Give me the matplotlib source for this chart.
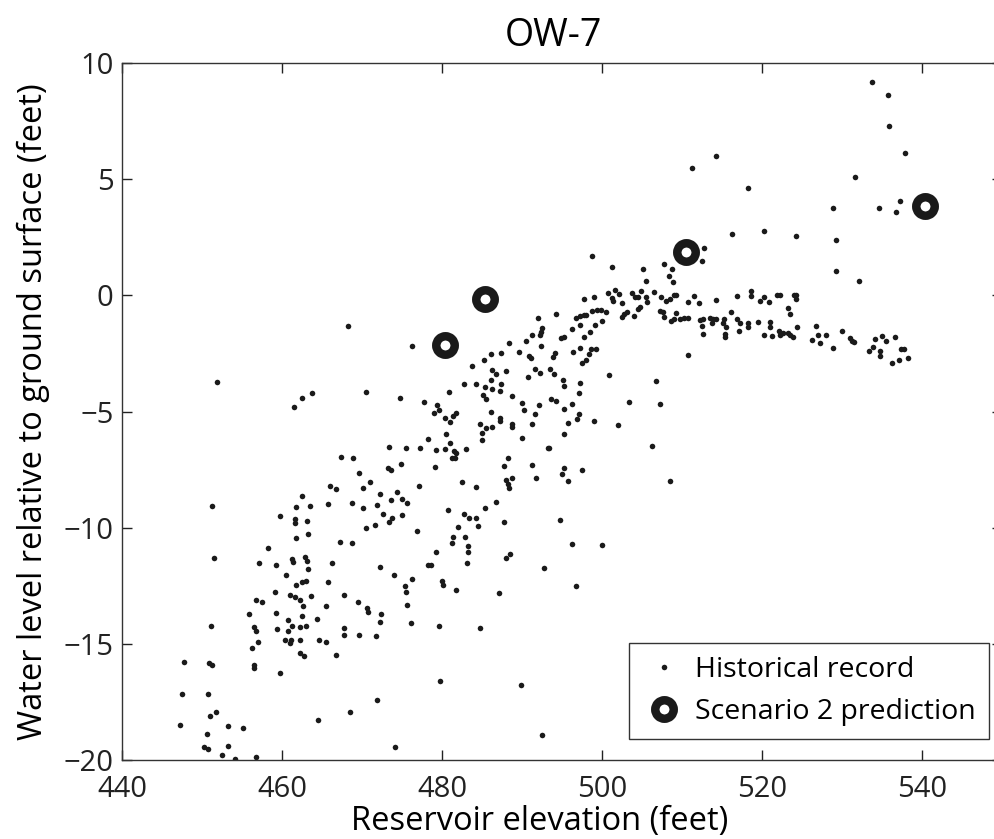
import matplotlib
matplotlib.use("Agg")
import matplotlib.pyplot as plt

plt.rcParams["font.family"] = ["Open Sans", "DejaVu Sans"]

# Historical record: reservoir elevation (ft) vs water level relative to ground (ft)
hist_x = [
    451.9, 463.8, 462.5, 461.5, 467.4, 468.9, 469.6, 466.0, 466.7, 462.5,
    451.2, 461.7, 463.5, 465.8, 468.7, 459.7, 461.6, 461.6, 463.1, 463.2,
    461.8, 467.2, 468.7, 458.3, 451.5, 457.1, 459.2, 461.3, 461.4, 462.9,
    463.1, 463.3, 466.3, 460.5, 461.8, 462.5, 463.0, 465.8, 459.1, 461.0,
    461.6, 462.3, 463.6, 467.8, 469.5, 456.8, 457.5, 462.6, 465.5, 455.9,
    459.3, 462.5, 464.4, 460.7, 451.1, 456.5, 456.8, 459.4, 460.8, 461.3,
    462.3, 463.0, 467.8, 467.8, 469.6, 457.0, 460.4, 461.1, 461.0, 462.3,
    464.6, 465.5, 456.3, 462.3, 462.7, 466.8, 447.8, 450.9, 451.3, 456.5,
    456.5, 459.7, 447.5, 450.8, 451.7, 451.0, 468.5, 464.5, 447.2, 453.3,
    455.1, 450.6, 450.3, 450.8, 453.3, 452.5, 454.1, 456.8,
    468.2, 476.2, 470.5, 474.7, 477.7, 479.4, 479.0, 479.6, 480.4, 481.0,
    481.7, 481.4, 480.9, 482.8, 484.3, 483.8, 485.3, 486.1, 487.4, 488.4,
    489.6, 490.5, 491.2, 492.0, 490.9, 491.1, 491.6, 490.8, 486.2, 486.8,
    488.0, 486.1, 485.4, 486.3, 487.2, 487.4, 485.1, 485.5, 488.7, 490.0,
    490.3, 491.6, 486.1, 487.2, 487.3, 486.2, 485.5, 484.8, 485.0, 485.0,
    488.8, 488.7, 491.2, 492.1, 490.0, 480.5, 478.3, 481.0, 480.4, 479.3,
    481.5, 481.7, 483.0, 481.3, 481.6, 477.2, 475.5, 473.4, 474.9, 473.3,
    473.6, 471.0, 470.1, 472.3, 474.4, 475.0, 475.6, 473.6, 471.9, 470.1,
    472.6, 475.0, 473.8, 473.4, 471.6, 470.5, 476.9, 477.1, 479.1, 482.5,
    484.3, 480.8, 482.8, 483.4, 484.2, 482.0, 484.5, 481.4, 481.2, 482.9,
    483.3, 485.4, 486.7, 487.8, 488.2, 487.8, 488.0, 488.8, 488.2, 488.4,
    491.3, 491.8,
    483.3, 479.3, 483.1, 478.2, 478.6, 472.2, 474.0, 476.2, 475.4, 475.5,
    480.0, 480.1, 481.8, 470.6, 470.8, 472.4, 472.3, 475.6, 476.1, 479.6,
    484.7, 471.8, 488.0, 488.5, 492.8, 496.3, 496.8, 487.1, 479.7, 489.9,
    471.9, 492.5, 474.1,
    498.7, 501.3, 505.1, 505.5, 507.7, 508.7, 508.4, 508.9, 512.7, 512.5,
    497.8, 499.0, 500.7, 501.3, 501.6, 502.1, 501.4, 502.5, 503.7, 504.1,
    504.9, 504.5, 505.5, 505.6, 506.5, 507.4, 508.0, 508.5, 509.0, 509.3,
    510.8, 511.5, 512.1, 514.3, 507.3, 507.6, 507.8, 509.3, 508.6, 509.0,
    509.8, 510.3, 510.8, 512.3, 512.6, 512.5, 512.6, 513.5, 513.9, 513.8,
    510.8, 500.9, 506.7, 503.4, 507.3, 502.0, 506.2, 508.5, 499.0, 494.8,
    497.5, 495.2, 495.0, 495.8, 493.2, 493.4, 495.2, 495.7, 496.9, 497.1,
    495.3, 496.2, 497.1, 497.2, 495.2, 495.1, 494.0, 493.5, 492.2, 493.6,
    494.3, 497.5, 498.0, 498.4, 498.6, 499.3, 496.4, 497.3, 497.7, 498.5,
    499.1, 500.0, 497.3, 496.2, 495.3, 494.9, 494.2, 492.5, 492.4, 492.3,
    492.4, 493.9, 494.1, 496.8, 497.3, 497.7, 498.0, 498.7, 499.4, 499.9,
    500.5, 502.5, 502.8, 503.1, 504.0, 504.5, 504.8, 500.0, 511.3,
    533.8, 535.7, 535.9, 537.9, 514.2, 531.6, 518.3, 528.9, 534.6, 537.2,
    536.7, 516.2, 520.2, 524.3, 529.3, 529.2, 532.1,
    516.9, 518.6, 518.6, 519.7, 520.3, 520.9, 521.9, 522.3, 524.0, 524.3,
    524.2, 523.2, 523.5,
    514.3, 515.1, 515.3, 515.5, 515.4, 515.4, 516.1, 516.9, 517.2, 517.1,
    518.2, 518.3, 519.5, 520.3, 521.0, 521.0, 521.3, 522.1, 522.6, 522.3,
    523.3, 523.5, 523.9, 524.4, 526.8, 526.3, 527.0, 527.3, 528.0, 528.9,
    530.0, 531.0, 531.3, 531.5, 533.4, 533.9, 534.1, 534.7, 534.8, 535.0,
    535.5, 536.6, 536.3, 537.1, 538.2, 537.4, 537.8,
]
hist_y = [
    -3.75, -4.20, -4.42, -4.81, -6.96, -6.99, -7.64, -8.22, -8.34, -8.63,
    -9.07, -9.13, -9.07, -8.98, -8.94, -9.49, -9.64, -9.80, -9.70, -10.28,
    -10.45, -10.62, -10.66, -10.89, -11.31, -11.54, -11.62, -11.34, -11.49, -11.25,
    -11.44, -11.78, -11.54, -12.05, -12.47, -12.33, -12.28, -12.34, -12.79, -12.90,
    -12.99, -13.10, -12.92, -12.89, -13.19, -13.10, -13.21, -13.39, -13.36, -13.73,
    -13.69, -13.79, -13.93, -13.98, -14.22, -14.27, -14.44, -14.38, -14.44, -14.24,
    -14.27, -14.24, -14.32, -14.64, -14.64, -14.91, -14.84, -14.84, -14.98, -14.84,
    -14.84, -14.90, -15.20, -15.38, -15.51, -15.48, -15.79, -15.83, -15.90, -15.89,
    -16.03, -16.24, -17.18, -17.16, -17.92, -18.09, -17.94, -18.27, -18.48, -18.55,
    -18.63, -18.86, -19.43, -19.52, -19.39, -19.78, -19.95, -19.86,
    -1.32, -2.18, -4.18, -4.41, -4.58, -4.72, -5.05, -4.95, -5.30, -5.44,
    -5.08, -5.18, -4.15, -3.80, -3.80, -3.06, -2.79, -2.53, -2.50, -2.04,
    -2.44, -1.97, -1.72, -0.96, -2.61, -2.71, -3.17, -3.53, -3.20, -3.37,
    -3.27, -3.66, -3.95, -4.05, -4.11, -3.80, -4.31, -4.48, -4.33, -4.64,
    -4.94, -5.10, -5.02, -5.27, -5.40, -5.66, -5.73, -5.54, -5.94, -6.24,
    -5.54, -5.66, -5.55, -4.72, -6.13, -5.98, -6.19, -6.37, -6.62, -6.67,
    -6.69, -6.80, -6.63, -7.02, -7.02, -6.56, -6.56, -6.53, -7.28, -7.42,
    -7.52, -8.05, -8.28, -8.54, -8.47, -8.77, -8.94, -8.81, -9.01, -9.14,
    -9.40, -9.46, -9.60, -9.74, -9.90, -10.00, -10.13, -8.21, -7.38, -8.05,
    -8.24, -9.26, -9.40, -9.57, -9.59, -9.96, -9.94, -10.40, -10.65, -10.40,
    -10.79, -9.16, -8.90, -9.77, -7.00, -7.35, -7.95, -7.88, -8.14, -8.31,
    -7.32, -7.88,
    -11.06, -11.06, -11.51, -11.61, -11.61, -11.71, -12.03, -12.23, -12.53, -12.76,
    -12.31, -12.45, -12.69, -13.45, -13.63, -13.73, -14.06, -13.33, -14.12, -14.24,
    -14.34, -14.65, -11.29, -11.15, -11.74, -10.72, -12.50, -12.82, -16.59, -16.78,
    -17.41, -18.93, -19.46,
    1.68, 1.23, 1.13, 0.63, 1.35, 1.12, 0.82, 0.57, 2.02, 1.48,
    -0.16, -0.06, 0.09, -0.13, 0.22, 0.04, -0.25, -0.34, 0.11, -0.06,
    0.20, -0.09, -0.06, -0.30, 0.16, -0.06, -0.23, -0.16, 0.00, 0.00,
    -0.29, -0.02, -0.32, -0.20, -0.69, -0.72, -0.95, -0.78, -1.11, -1.03,
    -1.00, -0.98, -0.98, -1.06, -1.03, -1.32, -1.67, -0.99, -1.03, -1.18,
    -2.58, -3.43, -3.68, -4.59, -4.68, -5.58, -6.47, -7.99, -5.42, -9.66,
    -7.52, -7.43, -7.71, -8.01, -6.59, -6.59, -5.98, -5.51, -5.31, -5.10,
    -4.91, -4.69, -4.22, -3.78, -3.89, -3.65, -3.39, -3.19, -3.36, -4.48,
    -4.56, -2.90, -2.77, -2.51, -2.31, -2.33, -2.43, -2.26, -1.78, -1.59,
    -1.29, -1.11, -1.26, -1.43, -1.78, -1.85, -0.82, -1.39, -1.56, -1.70,
    -2.17, -2.64, -2.50, -0.99, -0.89, -0.86, -0.86, -0.68, -0.63, -0.63,
    -0.71, -0.95, -0.80, -0.71, -0.89, -0.60, -0.52, -10.73, 5.47,
    9.18, 8.62, 7.30, 6.13, 6.01, 5.08, 4.62, 3.76, 3.76, 4.05,
    3.60, 2.63, 2.77, 2.57, 2.38, 1.05, 0.63,
    -0.02, 0.17, -0.02, -0.26, -0.06, -0.27, 0.00, 0.00, 0.00, 0.00,
    -0.14, -0.56, -0.80,
    -1.03, -1.21, -1.03, -1.35, -1.67, -1.78, -0.71, -1.03, -1.21, -1.52,
    -1.21, -1.35, -1.13, -1.72, -1.13, -1.35, -1.75, -1.52, -1.64, -1.71,
    -1.64, -1.72, -1.78, -1.35, -1.31, -1.92, -1.71, -2.07, -1.71, -2.27,
    -1.52, -1.82, -1.97, -2.02, -2.39, -2.21, -1.90, -2.39, -2.61, -1.75,
    -1.95, -1.78, -2.90, -2.79, -2.71, -2.30, -2.33,
]

# Scenario 2 predictions
pred_x = [480.4, 485.4, 510.5, 540.4]
pred_y = [-2.14, -0.16, 1.85, 3.86]

fig = plt.figure(figsize=(9.95, 8.39), dpi=100)
ax = fig.add_axes([122 / 995, 79 / 839, 880 / 995, 697 / 839])

ax.plot(hist_x, hist_y, ls="none", marker="o", ms=4.0, color="#1a1a1a",
        mec="none", label="Historical record")
ax.plot(pred_x, pred_y, ls="none", marker="o", ms=13.3, mew=6.1,
        mfc="white", mec="#1a1a1a", label="Scenario 2 prediction")

ax.set_xlim(440, 550)
ax.set_ylim(-20, 10)
ax.set_xticks([440, 460, 480, 500, 520, 540])
ax.set_yticks([-20, -15, -10, -5, 0, 5, 10])

ax.tick_params(direction="in", length=7, width=1, top=True, right=True,
               labelsize=21, colors="#222222")
ax.tick_params(axis="x", pad=11)
ax.tick_params(axis="y", pad=6)
for sp in ax.spines.values():
    sp.set_linewidth(1.0)
    sp.set_color("#333333")

ax.set_title("OW-7", fontsize=27, pad=12, x=0.49)
ax.set_xlabel("Reservoir elevation (feet)", fontsize=23.5)
ax.xaxis.set_label_coords(0.475, -0.065)
ax.set_ylabel("Water level relative to ground surface (feet)", fontsize=23.5, labelpad=10)

leg = ax.legend(loc="lower right", bbox_to_anchor=(989 / 995, 100 / 839),
                bbox_transform=fig.transFigure, borderaxespad=0,
                fontsize=20.5, fancybox=False, framealpha=1,
                edgecolor="#333333", handletextpad=0.3, handlelength=1.6,
                borderpad=0.45, labelspacing=0.5)
leg.get_frame().set_linewidth(1.0)

fig.savefig("out.png", dpi=100)
